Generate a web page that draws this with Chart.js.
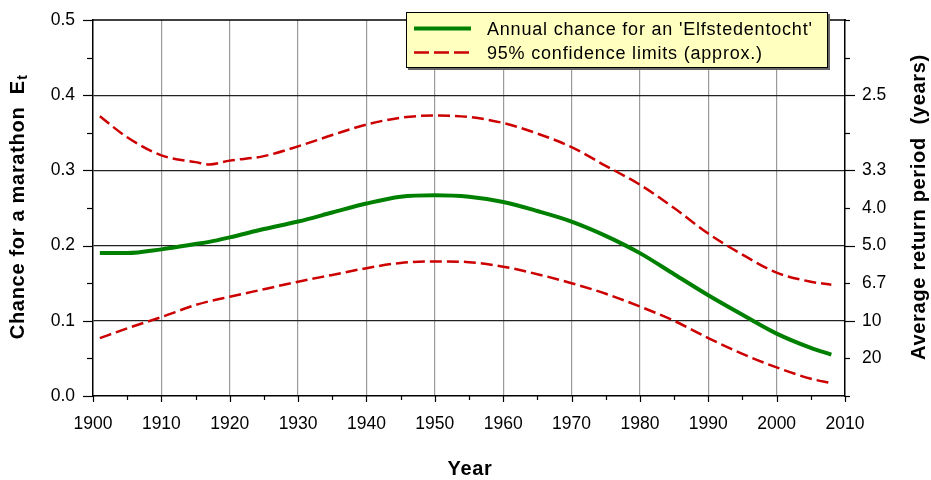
<!DOCTYPE html>
<html>
<head>
<meta charset="utf-8">
<script src="https://cdn.jsdelivr.net/npm/chart.js@4/dist/chart.umd.min.js"></script>
<style>
html,body{margin:0;padding:0;background:#fff;}
canvas{display:block;}
</style>
</head>
<body>
<canvas id="c" width="931" height="480"></canvas>
<script>
// ---- data ----
const years = [1901,1905,1910,1915,1917,1920,1925,1930,1935,1940,1945,1950,1955,1960,1965,1970,1975,1980,1985,1990,1995,2000,2005,2008];
const annualChance = [0.190,0.190,0.195,0.202,0.205,0.211,0.222,0.232,0.244,0.256,0.265,0.267,0.265,0.258,0.246,0.232,0.213,0.190,0.162,0.134,0.108,0.083,0.064,0.055];
const upperLimit = [0.372,0.344,0.320,0.311,0.308,0.313,0.319,0.332,0.347,0.361,0.370,0.373,0.371,0.363,0.349,0.331,0.306,0.281,0.250,0.216,0.188,0.164,0.152,0.148];
const lowerLimit = [0.077,0.090,0.105,0.121,0.126,0.132,0.142,0.152,0.161,0.170,0.177,0.179,0.178,0.172,0.162,0.150,0.136,0.119,0.100,0.077,0.056,0.038,0.023,0.017];
const returnPeriodValues = [0.4,0.3,0.25,0.2,0.15,0.1,0.05];
const returnPeriodLabels = ['2.5','3.3','4.0','5.0','6.7','10','20'];
const seriesLabels = ["Annual chance for an 'Elfstedentocht'", "95% confidence limits (approx.)"];

const FONT = "'Liberation Sans', Arial, Helvetica, sans-serif";
const GREEN = '#008000';
const RED = '#cc0000';
const DASH = [12,5];

const toXY = arr => years.map((x,i)=>({x, y: arr[i]}));
const near = (a,b)=>Math.abs(a-b)<1e-6;
const noOverflow = s => { s.paddingTop = 0; s.paddingBottom = 0; s.paddingLeft = 0; s.paddingRight = 0; };

const decorations = {
  id:'decorations',
  afterDraw(chart){
    const ctx = chart.ctx;
    const ca = chart.chartArea;
    const xs = chart.scales.x, ys = chart.scales.y;
    ctx.save();
    ctx.strokeStyle = '#000';
    ctx.lineWidth = 1.5;
    // top border
    ctx.beginPath(); ctx.moveTo(ca.left-1, ca.top); ctx.lineTo(ca.right+1, ca.top); ctx.stroke();
    // tick marks
    ctx.lineWidth = 1.2;
    for(let k=0;k<=10;k++){
      const v = k*0.05;
      const py = Math.round(ys.getPixelForValue(v))+0.5;
      const major = k%2===0;
      const lenL = major ? 10 : 6;
      ctx.beginPath(); ctx.moveTo(ca.left-lenL, py); ctx.lineTo(ca.left, py); ctx.stroke();
      const lenR = (major && k>0 && k<10) ? 10 : 5;
      ctx.beginPath(); ctx.moveTo(ca.right, py); ctx.lineTo(ca.right+lenR, py); ctx.stroke();
    }
    for(let yr=1900; yr<=2010; yr+=5){
      const px = Math.round(xs.getPixelForValue(yr))+0.5;
      const len = (yr%10===0) ? 6 : 4;
      ctx.beginPath(); ctx.moveTo(px, ca.bottom); ctx.lineTo(px, ca.bottom+len); ctx.stroke();
    }
    // axis titles
    ctx.fillStyle = '#000';
    ctx.textBaseline = 'middle';
    try { ctx.letterSpacing = '0.7px'; } catch(e) {}
    // left title with subscript
    ctx.save();
    ctx.translate(18, 207);
    ctx.rotate(-Math.PI/2);
    const main = 'Chance for a marathon  E';
    ctx.font = 'bold 20px ' + FONT;
    const w1 = ctx.measureText(main).width;
    ctx.font = 'bold 14px ' + FONT;
    const w2 = ctx.measureText('t').width;
    const start = -(w1+w2)/2;
    ctx.font = 'bold 20px ' + FONT;
    ctx.textAlign = 'left';
    ctx.fillText(main, start, 0);
    ctx.font = 'bold 14px ' + FONT;
    ctx.fillText('t', start + w1 + 0.5, 5);
    ctx.restore();
    // right title
    ctx.save();
    ctx.translate(919, 207);
    ctx.rotate(-Math.PI/2);
    ctx.font = 'bold 20px ' + FONT;
    ctx.textAlign = 'center';
    ctx.fillText('Average return period  (years)', 0, 0);
    ctx.restore();
    // x title
    ctx.font = 'bold 20px ' + FONT;
    ctx.textAlign = 'center';
    ctx.fillText('Year', 470, 469);
    // legend box
    try { ctx.letterSpacing = '0px'; } catch(e) {}
    const bx=406, by=12, bw=422, bh=56;
    ctx.fillStyle = '#666';
    ctx.fillRect(bx+2, by+2, bw, bh);
    ctx.fillStyle = '#ffffc0';
    ctx.fillRect(bx, by, bw, bh);
    ctx.strokeStyle = '#000';
    ctx.lineWidth = 1;
    ctx.strokeRect(bx+0.5, by+0.5, bw-1, bh-1);
    // legend entries
    ctx.lineWidth = 4;
    ctx.strokeStyle = GREEN;
    ctx.beginPath(); ctx.moveTo(414, 28.5); ctx.lineTo(471, 28.5); ctx.stroke();
    ctx.lineWidth = 2.5;
    ctx.strokeStyle = RED;
    ctx.setLineDash([15,5]);
    ctx.beginPath(); ctx.moveTo(414, 52.5); ctx.lineTo(471, 52.5); ctx.stroke();
    ctx.setLineDash([]);
    ctx.fillStyle = '#000';
    try { ctx.letterSpacing = '0.8px'; } catch(e) {}
    ctx.font = '18px ' + FONT;
    ctx.textAlign = 'left';
    ctx.textBaseline = 'alphabetic';
    ctx.fillText(seriesLabels[0], 487, 34.5);
    ctx.fillText(seriesLabels[1], 487, 59);
    ctx.restore();
  }
};

new Chart(document.getElementById('c'), {
  type:'line',
  data:{
    datasets:[
      {label:seriesLabels[0], data:toXY(annualChance), borderColor:GREEN, borderWidth:4, pointRadius:0, cubicInterpolationMode:'monotone', yAxisID:'y'},
      {label:seriesLabels[1], data:toXY(upperLimit), borderColor:RED, borderWidth:2.5, borderDash:DASH, pointRadius:0, cubicInterpolationMode:'monotone', yAxisID:'y'},
      {label:'lower', data:toXY(lowerLimit), borderColor:RED, borderWidth:2.5, borderDash:DASH, pointRadius:0, cubicInterpolationMode:'monotone', yAxisID:'y'}
    ]
  },
  options:{
    responsive:false,
    animation:false,
    devicePixelRatio:1,
    layout:{padding:{top:20,left:0,right:0,bottom:0}},
    plugins:{legend:{display:false}, tooltip:{enabled:false}},
    scales:{
      x:{
        type:'linear', min:1900, max:2010,
        afterFit:s=>{s.height=84; noOverflow(s);},
        ticks:{stepSize:10, color:'#000', font:{family:FONT, size:17.5}, padding:18, maxRotation:0, callback:v=>String(v)},
        grid:{drawTicks:false, lineWidth:1.2, color:c=>(c.tick && (c.tick.value===1900||c.tick.value===2010))?'rgba(0,0,0,0)':'#9a9a9a'},
        border:{display:true, color:'#000', width:1.5}
      },
      y:{
        position:'left', min:0, max:0.5,
        afterFit:s=>{s.width=93; noOverflow(s);},
        ticks:{stepSize:0.1, color:'#000', font:{family:FONT, size:17.5}, padding:18, callback:v=>Number(v).toFixed(1)},
        grid:{drawTicks:false, lineWidth:1.2, color:c=>(c.tick && (near(c.tick.value,0)||near(c.tick.value,0.5)))?'rgba(0,0,0,0)':'#222'},
        border:{display:true, color:'#000', width:1.5}
      },
      y2:{
        position:'right', min:0, max:0.5,
        afterFit:s=>{s.width=86; noOverflow(s);},
        afterBuildTicks:s=>{s.ticks = returnPeriodValues.map(v=>({value:v}));},
        ticks:{color:'#000', font:{family:FONT, size:17.5}, padding:17, callback:(v,i)=>returnPeriodLabels[i]},
        grid:{display:false, drawTicks:false},
        border:{display:true, color:'#000', width:1.5}
      }
    }
  },
  plugins:[decorations]
});
</script>
</body>
</html>
